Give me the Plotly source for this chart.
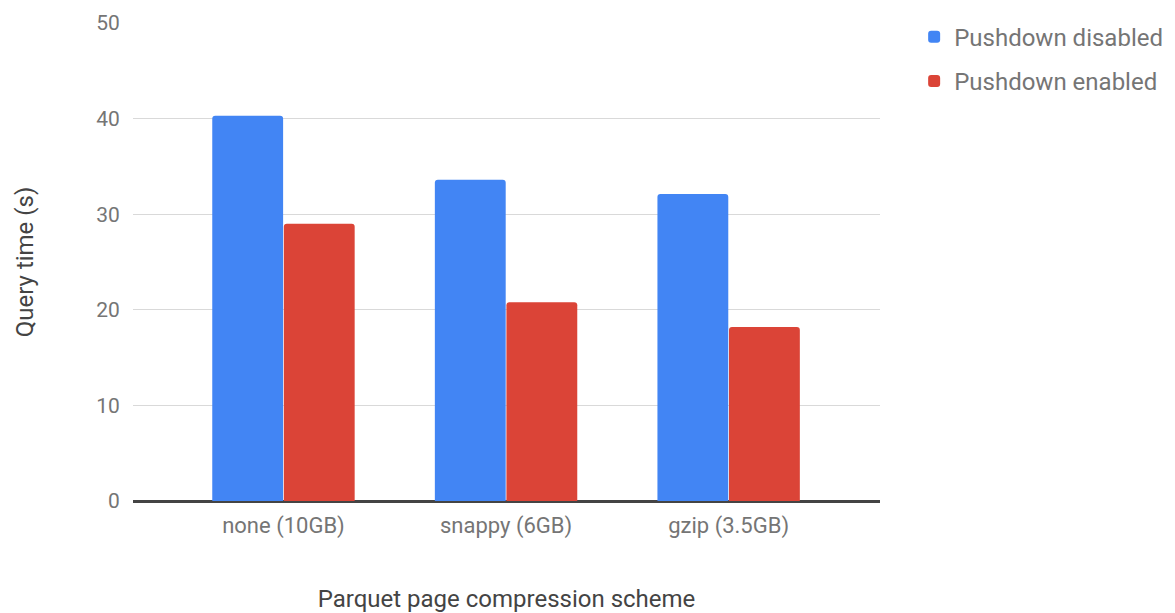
import plotly.graph_objects as go

# Query times by Parquet page compression scheme
categories = ["none (10GB)", "snappy (6GB)", "gzip (3.5GB)"]
pushdown_disabled = [40.3, 33.6, 32.1]
pushdown_enabled = [29.0, 20.8, 18.2]
y_ticks = [0, 10, 20, 30, 40, 50]

BLUE = "#4285F4"
RED = "#DB4437"
FONT = "Roboto"

fig = go.Figure()
fig.add_trace(go.Bar(
    x=categories, y=pushdown_disabled, name="Pushdown disabled",
    marker=dict(color=BLUE, line=dict(width=0), cornerradius=3),
    legendgroup="a",
))
fig.add_trace(go.Bar(
    x=categories, y=pushdown_enabled, name="Pushdown enabled",
    marker=dict(color=RED, line=dict(width=0), cornerradius=3),
    legendgroup="b",
))

fig.update_layout(
    width=1175, height=613,
    margin=dict(l=133, r=295, t=23, b=112, autoexpand=False),
    paper_bgcolor="white", plot_bgcolor="white",
    font=dict(family=FONT, color="#757575", size=21),
    barmode="group", bargap=0.357, bargroupgap=0.01,
    legend=dict(
        xref="container", yref="container",
        x=0.778, y=0.976, xanchor="left", yanchor="top",
        font=dict(size=24, color="#757575", family=FONT),
        tracegroupgap=10, bgcolor="rgba(0,0,0,0)",
    ),
    xaxis=dict(
        range=[-0.676, 2.68], automargin=False,
        showgrid=False, showline=True, linecolor="#444", linewidth=1.5,
        ticks="outside", ticklen=4, tickcolor="rgba(0,0,0,0)",
        tickfont=dict(size=22, color="#757575"),
        title=dict(text="Parquet page compression scheme",
                   font=dict(size=24, color="#444"), standoff=56),
    ),
    yaxis=dict(
        range=[0, 50], tickvals=y_ticks, automargin=False,
        showgrid=True, gridcolor="#d9d9d9", gridwidth=1,
        zeroline=True, zerolinecolor="#444", zerolinewidth=1.5,
        ticks="outside", ticklen=8, tickcolor="rgba(0,0,0,0)",
        tickfont=dict(size=21, color="#757575"),
        title=dict(text="Query time (s)",
                   font=dict(size=24, color="#444"), standoff=55),
    ),
)

fig.write_html("out.html")
